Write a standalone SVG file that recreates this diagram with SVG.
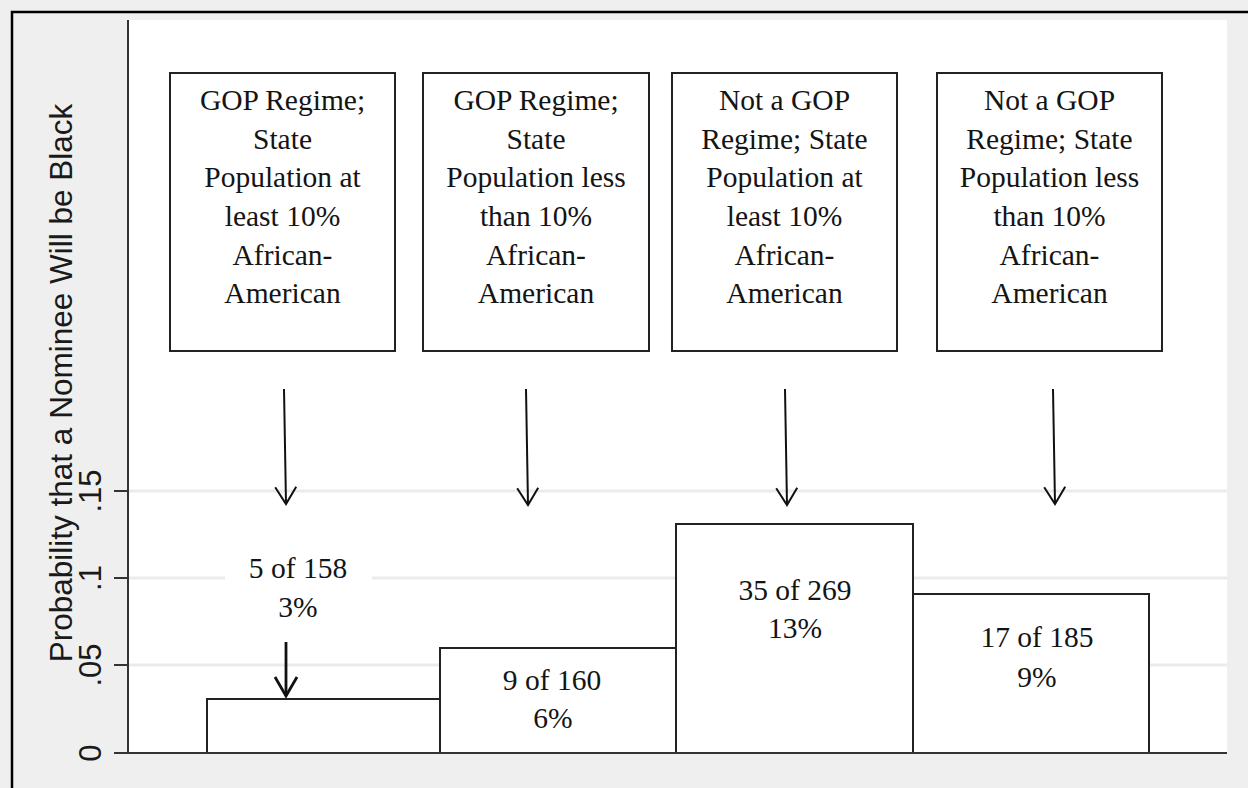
<svg xmlns="http://www.w3.org/2000/svg" width="1248" height="788" viewBox="0 0 1248 788">
<style>
.serif{font-family:"Liberation Serif","Times New Roman",serif;font-size:29.5px;fill:#141414;text-anchor:middle}
.sans{font-family:"Liberation Sans",Arial,sans-serif;fill:#1a1a1a;text-anchor:middle}
.box{fill:#fff;stroke:#222;stroke-width:2}
.bar{fill:#fff;stroke:#222;stroke-width:2}
.grid{stroke:#ebebeb;stroke-width:3}
.axis{stroke:#333;stroke-width:2;fill:none}
.arrow{stroke:#111;stroke-width:2;fill:none}
</style>
<defs>
<marker id="vhead" viewBox="-20 -12 22 24" refX="0" refY="0" markerWidth="22" markerHeight="24" markerUnits="userSpaceOnUse" orient="auto" overflow="visible">
<path d="M-17,-10.5 L0,0 L-17,10.5" fill="none" stroke="#111" stroke-width="2"/>
</marker>
<marker id="vhead2" viewBox="-24 -14 26 28" refX="0" refY="0" markerWidth="26" markerHeight="28" markerUnits="userSpaceOnUse" orient="auto" overflow="visible">
<path d="M-19,-11 L0,0 L-19,11" fill="none" stroke="#111" stroke-width="2.8"/>
</marker>
</defs>
<rect x="0" y="0" width="1248" height="788" fill="#efefef"/>
<path d="M12,788 V12 H1248" fill="none" stroke="#000" stroke-width="2.5"/>
<rect x="128" y="20" width="1099" height="733" fill="#fff"/>
<g id="gridlines">
<line class="grid" x1="128" y1="491" x2="1227" y2="491"/>
<line class="grid" x1="128" y1="578" x2="1227" y2="578"/>
<line class="grid" x1="128" y1="665" x2="1227" y2="665"/>
</g>
<g id="bar1"><rect class="bar" x="207" y="699" width="233" height="54"/></g>
<g id="bar2"><rect class="bar" x="440" y="648" width="236" height="105"/>
<text class="serif" x="552" y="690">9 of 160</text><text class="serif" x="553" y="728">6%</text></g>
<g id="bar3"><rect class="bar" x="676" y="524" width="237" height="229"/>
<text class="serif" x="795" y="600">35 of 269</text><text class="serif" x="795" y="638">13%</text></g>
<g id="bar4"><rect class="bar" x="913" y="594" width="236" height="159"/>
<text class="serif" x="1037" y="647">17 of 185</text><text class="serif" x="1037" y="687">9%</text></g>
<g id="bar1-label"><rect x="225" y="552" width="147" height="80" fill="#fff"/>
<text class="serif" x="298" y="578">5 of 158</text><text class="serif" x="298" y="617">3%</text></g>
<g id="box1"><rect class="box" x="170" y="73" width="225" height="278"/>
<text class="serif" x="282.5" y="110">GOP Regime;</text>
<text class="serif" x="282.5" y="148.5">State</text>
<text class="serif" x="282.5" y="187">Population at</text>
<text class="serif" x="282.5" y="226">least 10%</text>
<text class="serif" x="282.5" y="265">African-</text>
<text class="serif" x="282.5" y="303">American</text></g>
<g id="box2"><rect class="box" x="423" y="73" width="226" height="278"/>
<text class="serif" x="536" y="110">GOP Regime;</text>
<text class="serif" x="536" y="148.5">State</text>
<text class="serif" x="536" y="187">Population less</text>
<text class="serif" x="536" y="226">than 10%</text>
<text class="serif" x="536" y="265">African-</text>
<text class="serif" x="536" y="303">American</text></g>
<g id="box3"><rect class="box" x="672" y="73" width="225" height="278"/>
<text class="serif" x="784.5" y="110">Not a GOP</text>
<text class="serif" x="784.5" y="148.5">Regime; State</text>
<text class="serif" x="784.5" y="187">Population at</text>
<text class="serif" x="784.5" y="226">least 10%</text>
<text class="serif" x="784.5" y="265">African-</text>
<text class="serif" x="784.5" y="303">American</text></g>
<g id="box4"><rect class="box" x="937" y="73" width="225" height="278"/>
<text class="serif" x="1049.5" y="110">Not a GOP</text>
<text class="serif" x="1049.5" y="148.5">Regime; State</text>
<text class="serif" x="1049.5" y="187">Population less</text>
<text class="serif" x="1049.5" y="226">than 10%</text>
<text class="serif" x="1049.5" y="265">African-</text>
<text class="serif" x="1049.5" y="303">American</text></g>
<g id="connectors">
<line class="arrow" x1="284" y1="389" x2="286" y2="504" marker-end="url(#vhead)"/>
<line class="arrow" x1="526" y1="389" x2="528" y2="505" marker-end="url(#vhead)"/>
<line class="arrow" x1="785" y1="389" x2="787" y2="505" marker-end="url(#vhead)"/>
<line class="arrow" x1="1053" y1="389" x2="1055" y2="504" marker-end="url(#vhead)"/>
<line x1="286" y1="642" x2="286" y2="696" stroke="#111" stroke-width="2.8" marker-end="url(#vhead2)"/>
</g>
<g id="axes">
<line class="axis" x1="128" y1="20" x2="128" y2="753"/>
<line class="axis" x1="114" y1="753" x2="1227" y2="753"/>
<line class="axis" x1="114" y1="665" x2="128" y2="665"/>
<line class="axis" x1="114" y1="578" x2="128" y2="578"/>
<line class="axis" x1="114" y1="491" x2="128" y2="491"/>
<g class="sans" font-size="31">
<text transform="translate(101,753) rotate(-90)">0</text>
<text transform="translate(101,665) rotate(-90)">.05</text>
<text transform="translate(101,578) rotate(-90)">.1</text>
<text transform="translate(101,491) rotate(-90)">.15</text>
</g>
<text class="sans" font-size="31.5" transform="translate(72,383) rotate(-90)">Probability that a Nominee Will be Black</text>
</g>
</svg>
